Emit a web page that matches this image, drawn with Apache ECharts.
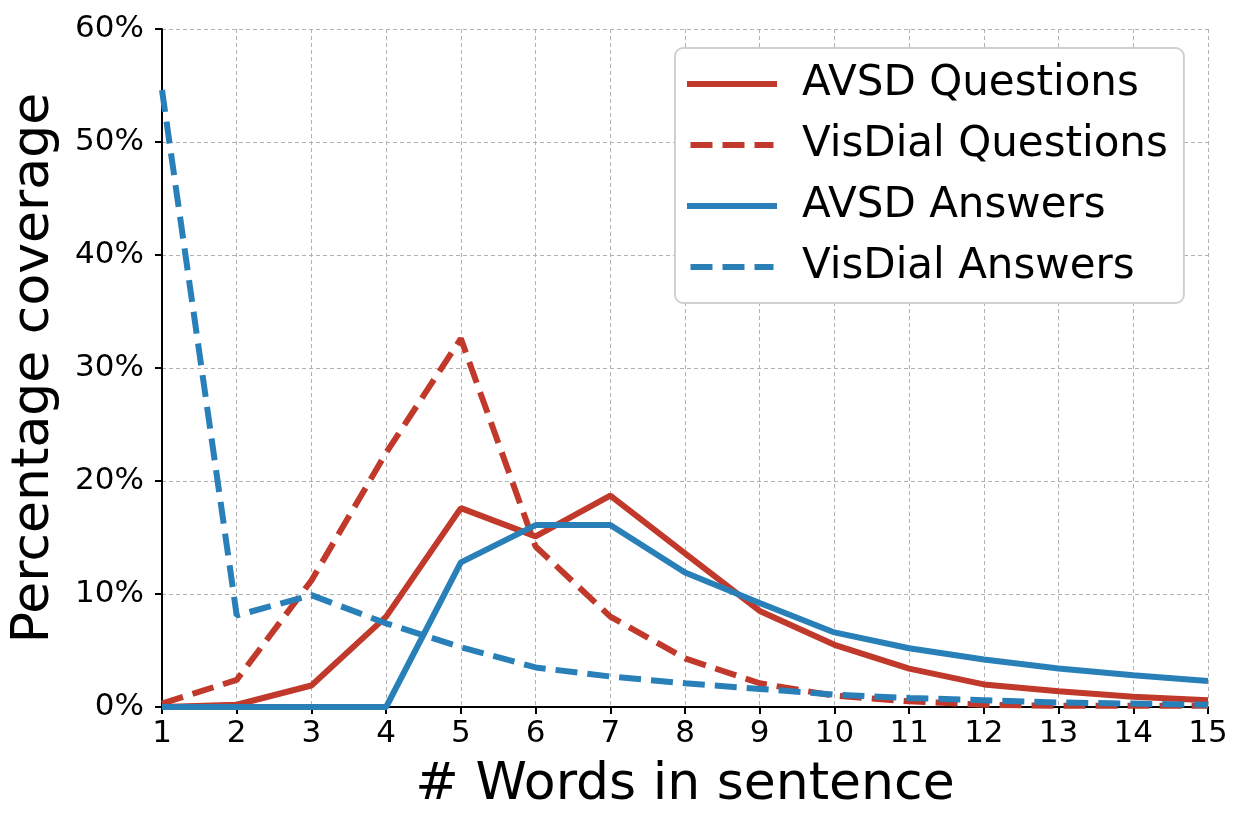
<!DOCTYPE html>
<html>
<head>
<meta charset="utf-8">
<script src="https://cdn.jsdelivr.net/npm/echarts@6/dist/echarts.min.js"></script>
<style>
  html, body { margin: 0; padding: 0; background: #fff; }
  #chart { width: 1244px; height: 828px; }
</style>
</head>
<body>
<div id="chart"></div>
<script>
// number of words in a sentence
var words = [1, 2, 3, 4, 5, 6, 7, 8, 9, 10, 11, 12, 13, 14, 15];
// percentage coverage
var avsdQuestions = [0.0, 0.2, 1.9, 8.0, 17.6, 15.1, 18.7, 13.6, 8.5, 5.5, 3.4, 2.0, 1.4, 0.9, 0.6];
var visdialQuestions = [0.3, 2.4, 11.2, 22.5, 32.6, 14.2, 8.0, 4.3, 2.1, 1.0, 0.5, 0.2, 0.1, 0.1, 0.1];
var avsdAnswers = [0.0, 0.0, 0.0, 0.0, 12.8, 16.1, 16.1, 11.9, 9.2, 6.6, 5.2, 4.2, 3.4, 2.8, 2.3];
var visdialAnswers = [54.6, 8.1, 9.9, 7.4, 5.3, 3.5, 2.7, 2.1, 1.6, 1.1, 0.8, 0.6, 0.4, 0.3, 0.2];

var RED = '#c0392b';
var BLUE = '#2980b9';
var FONT = 'DejaVu Sans';

// legend samples: a plain bar and three dashes
var SOLID_ICON = 'path://M0,0H90V6H0Z';
var DASH_ICON = 'path://M4,0H26V6H4Z M36,0H58V6H36Z M68,0H87V6H68Z';

function pairs(vals) {
  return words.map(function (w, i) { return [w, vals[i]]; });
}

function makeSeries(name, vals, color, dashed) {
  return {
    name: name,
    type: 'line',
    data: pairs(vals),
    symbol: 'none',
    clip: false,
    lineStyle: { color: color, width: 6, type: dashed ? [22, 10] : 'solid', cap: 'butt' },
    itemStyle: { color: color }
  };
}

var chart = echarts.init(document.getElementById('chart'));

var option = {
  animation: false,
  textStyle: { fontFamily: FONT },
  grid: { left: 162, right: 36, top: 29, bottom: 121 },
  legend: {
    orient: 'vertical',
    left: 675,
    top: 48,
    padding: [15, 16, 15, 12],
    itemWidth: 90,
    itemHeight: 6,
    itemGap: 19,
    backgroundColor: '#fff',
    borderColor: '#d0d0d0',
    borderWidth: 2,
    borderRadius: 8,
    textStyle: { fontFamily: FONT, fontSize: 42, color: '#000', padding: [0, 0, 0, 20] },
    data: [
      { name: 'AVSD Questions', icon: SOLID_ICON },
      { name: 'VisDial Questions', icon: DASH_ICON },
      { name: 'AVSD Answers', icon: SOLID_ICON },
      { name: 'VisDial Answers', icon: DASH_ICON }
    ]
  },
  xAxis: {
    type: 'value',
    min: 1,
    max: 15,
    interval: 1,
    name: '# Words in sentence',
    nameLocation: 'middle',
    nameGap: 52,
    nameTextStyle: { fontFamily: FONT, fontSize: 52, color: '#000' },
    axisLine: { lineStyle: { color: '#000', width: 2 } },
    axisTick: { show: true, length: 7, lineStyle: { color: '#000', width: 2 } },
    axisLabel: { fontFamily: FONT, fontSize: 31, color: '#000', margin: 11 },
    splitLine: { show: true, lineStyle: { color: '#b0b0b0', width: 1, type: [4, 3] } }
  },
  yAxis: {
    type: 'value',
    min: 0,
    max: 60,
    interval: 10,
    name: 'Percentage coverage',
    nameLocation: 'middle',
    nameGap: 102,
    nameTextStyle: { fontFamily: FONT, fontSize: 52, color: '#000' },
    axisLine: { show: true, lineStyle: { color: '#000', width: 2 } },
    axisTick: { show: true, length: 7, lineStyle: { color: '#000', width: 2 } },
    axisLabel: { fontFamily: FONT, fontSize: 31, color: '#000', margin: 18, formatter: '{value}%' },
    splitLine: { show: true, lineStyle: { color: '#b0b0b0', width: 1, type: [4, 3] } }
  },
  series: [
    makeSeries('AVSD Questions', avsdQuestions, RED, false),
    makeSeries('VisDial Questions', visdialQuestions, RED, true),
    makeSeries('AVSD Answers', avsdAnswers, BLUE, false),
    makeSeries('VisDial Answers', visdialAnswers, BLUE, true)
  ]
};

chart.setOption(option);
</script>
</body>
</html>
